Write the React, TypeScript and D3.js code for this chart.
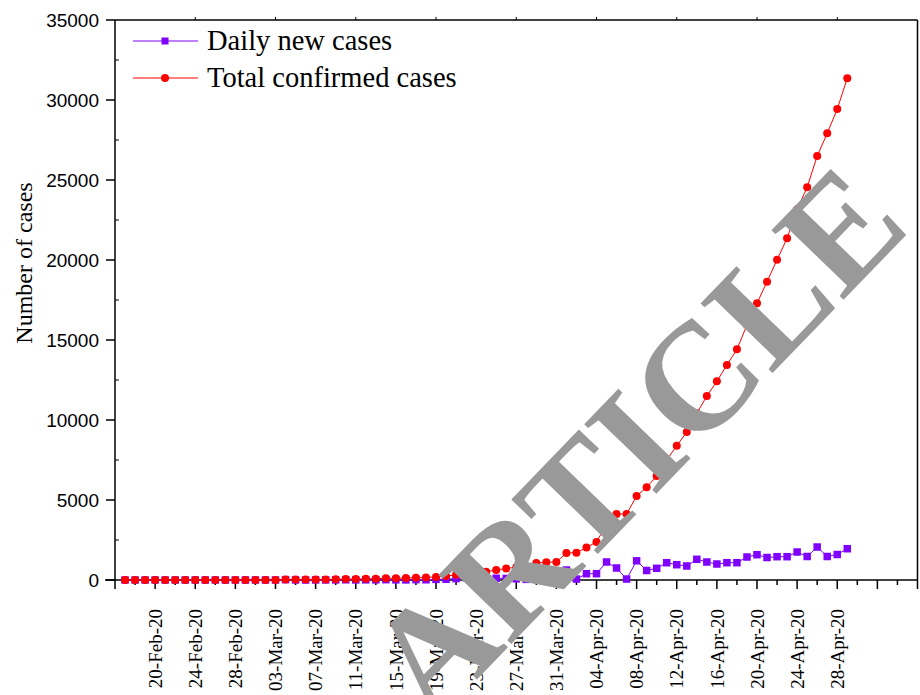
import React from "react";
import * as d3 from "d3";

// ---- data ----
const START_DATE = "2020-02-17";
const totalConfirmed = [
  3, 3, 3, 3, 3, 3, 3, 3, 3, 3, 3, 3, 3, // 17-29 Feb
  3, 5, 6, 28, 30, 31, 34, 39, 43, 56, 62, 73, 82, 102, 113, 119, 142, 156, 194, 244, 330,
  481, 481, 519, 625, 720, 794, 831, 1062, 1106, 1125, // 22-31 Mar
  1687, 1706, 2031, 2380, 3481, 4125, 4125, 5250, 5794, 6500, 7500, 8394, 9250, 10419, 11500,
  12419, 13437, 14419, 15937, 17294, 18644, 20019, 21356, 23169, 24544, 26500, 27919, 29437, 31356,
];
const dailyNew = [
  0, 0, 0, 0, 0, 0, 0, 0, 0, 0, 0, 0, 0, // 17-29 Feb
  0, 2, 1, 22, 2, 1, 3, 5, 4, 13, 6, 11, 9, 20, 11, 6, 23, 14, 38, 50, 86,
  150, 60, 70, 110, 95, 75, 40, 356, 170, 60, // 22-31 Mar
  625, 60, 394, 394, 1125, 750, 60, 1200, 594, 731, 1081, 956, 875, 1294, 1125,
  1000, 1081, 1081, 1437, 1581, 1406, 1456, 1456, 1750, 1469, 2062, 1469, 1594, 1956,
];
const yTicks = [0, 5000, 10000, 15000, 20000, 25000, 30000, 35000];
const xLabelDates = [
  "2020-02-20", "2020-02-24", "2020-02-28", "2020-03-03", "2020-03-07", "2020-03-11",
  "2020-03-15", "2020-03-19", "2020-03-23", "2020-03-27", "2020-03-31", "2020-04-04",
  "2020-04-08", "2020-04-12", "2020-04-16", "2020-04-20", "2020-04-24", "2020-04-28",
];
const seriesNames = ["Daily new cases", "Total confirmed cases"];
const yTitle = "Number of cases";
const watermark = "ARTICLE";

const DAY = 86400000;
const parse = (s: string) => {
  const [y, m, d] = s.split("-").map(Number);
  return new Date(Date.UTC(y, m - 1, d));
};
const dates = totalConfirmed.map((_, i) => new Date(parse(START_DATE).getTime() + i * DAY));

const W = 920, H = 695;
const L = 115, R = 917.5, T = 20, B = 580;
const serif = "'Liberation Serif', 'Times New Roman', serif";
const sans = "'Liberation Sans', Arial, sans-serif";
const PURPLE = "#8000ff";
const RED = "#ff0000";

export default function App() {
  const x = d3.scaleUtc().domain([parse("2020-02-16"), parse("2020-05-06")]).range([L, R]);
  const y = d3.scaleLinear().domain([0, 35000]).range([B, T]);
  const fmtLabel = d3.utcFormat("%d-%b-%y");

  const axisStart = parse("2020-02-16").getTime();
  const majorTicks: Date[] = [];
  const minorTicks: Date[] = [];
  for (let k = 0; k <= 20; k++) majorTicks.push(new Date(axisStart + k * 4 * DAY));
  for (let k = 0; k < 20; k++) minorTicks.push(new Date(axisStart + (k * 4 + 2) * DAY));
  const topTicks: Date[] = [];
  for (let k = 1; k <= 9; k++) topTicks.push(new Date(axisStart + (k * 8) * DAY));
  const yMinor = d3.range(2500, 35000, 5000);

  const line = d3.line<number>().x((_, i) => x(dates[i])).y((v) => y(v));

  const legendY = [41, 78];

  return (
    <svg width={W} height={H} style={{ position: "absolute", left: 0, top: 0, background: "#fff" }}>
      <rect x={0} y={0} width={W} height={H} fill="#fff" />
      {/* frame */}
      <line x1={L} x2={R} y1={T} y2={T} stroke="#000" strokeWidth={1.5} />
      <line x1={R} x2={R} y1={T} y2={B} stroke="#000" strokeWidth={1.5} />
      <line x1={L} x2={L} y1={T} y2={B + 1} stroke="#000" strokeWidth={1.5} />
      <line x1={105} x2={R} y1={B} y2={B} stroke="#000" strokeWidth={1.5} />
      {/* top ticks */}
      {topTicks.map((d, i) => (
        <line key={"tt" + i} x1={x(d)} x2={x(d)} y1={T} y2={T - 3} stroke="#000" strokeWidth={1} />
      ))}
      {/* y ticks */}
      {yTicks.map((v) => (
        <g key={"y" + v}>
          <line x1={106} x2={L} y1={y(v)} y2={y(v)} stroke="#000" strokeWidth={1.5} />
          <text x={99} y={y(v)} dy="0.35em" textAnchor="end" fontFamily={sans} fontSize={19}>
            {v}
          </text>
        </g>
      ))}
      {yMinor.map((v) => (
        <line key={"ym" + v} x1={L} x2={L + 4} y1={y(v)} y2={y(v)} stroke="#000" strokeWidth={1} />
      ))}
      {/* x ticks */}
      {majorTicks.map((d, i) => (
        <line key={"xM" + i} x1={x(d)} x2={x(d)} y1={B} y2={B + 9} stroke="#000" strokeWidth={1.5} />
      ))}
      {minorTicks.map((d, i) => (
        <line key={"xm" + i} x1={x(d)} x2={x(d)} y1={B} y2={B + 5} stroke="#000" strokeWidth={1.5} />
      ))}
      {xLabelDates.map((s) => {
        const d = parse(s);
        return (
          <text
            key={s}
            transform={`translate(${x(d)},609) rotate(-90)`}
            dy="0.35em"
            textAnchor="end"
            fontFamily={serif}
            fontSize={19}
          >
            {fmtLabel(d)}
          </text>
        );
      })}
      {/* y title */}
      <text transform="translate(32,263) rotate(-90)" textAnchor="middle" fontFamily={serif} fontSize={24}>
        {yTitle}
      </text>
      {/* series */}
      <path d={line(dailyNew) || ""} fill="none" stroke={PURPLE} strokeWidth={1} />
      {dailyNew.map((v, i) => (
        <rect key={"s" + i} x={x(dates[i]) - 3.75} y={y(v) - 3.75} width={7.5} height={7.5} fill={PURPLE} />
      ))}
      <path d={line(totalConfirmed) || ""} fill="none" stroke={RED} strokeWidth={1} />
      {totalConfirmed.map((v, i) => (
        <circle key={"c" + i} cx={x(dates[i])} cy={y(v)} r={4} fill={RED} />
      ))}
      {/* legend */}
      {seriesNames.map((n, i) => (
        <g key={n}>
          <line x1={133} x2={198} y1={legendY[i]} y2={legendY[i]} stroke={i === 0 ? PURPLE : RED} strokeWidth={1} />
          {i === 0 ? (
            <rect x={165 - 3.5} y={legendY[i] - 3.5} width={7} height={7} fill={PURPLE} />
          ) : (
            <circle cx={165} cy={legendY[i]} r={4} fill={RED} />
          )}
          <text x={207} y={legendY[i] + 9} fontFamily={serif} fontSize={28.5}>
            {n}
          </text>
        </g>
      ))}
      {/* watermark */}
      <text
        transform="translate(636,442) rotate(-46)"
        dy="0.33em"
        textAnchor="middle"
        fontFamily={serif}
        fontWeight="bold"
        fontSize={153}
        fill="#999999"
      >
        {watermark}
      </text>
    </svg>
  );
}
